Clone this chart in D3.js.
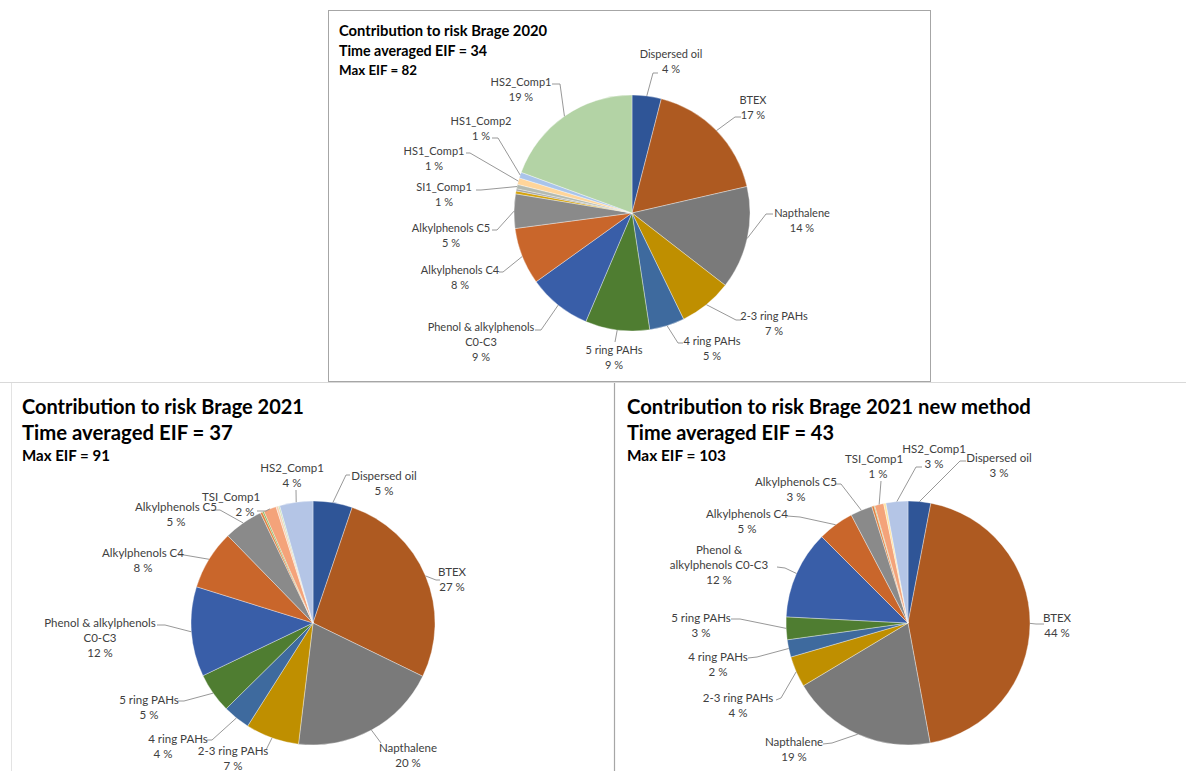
<!DOCTYPE html>
<html>
<head>
<meta charset="utf-8">
<script src="https://cdn.jsdelivr.net/npm/d3@7"></script>
<style>
  body { margin: 0; background: #fff; }
  text { font-family: Lato, "Liberation Sans", sans-serif; fill: #404040; }
  .title { font-weight: bold; fill: #000; }
</style>
</head>
<body>
<svg id="screen" width="1186" height="771"></svg>
<script>
// ---- data (shares in %, clockwise from 12 o'clock) ----
var names2020 = ["Dispersed oil", "BTEX", "Napthalene", "2-3 ring PAHs", "4 ring PAHs", "5 ring PAHs",
                 "Phenol & alkylphenols C0-C3", "Alkylphenols C4", "Alkylphenols C5",
                 "unlabelled A", "unlabelled B", "SI1_Comp1", "HS1_Comp1", "HS1_Comp2", "HS2_Comp1"]
var values2020 = [4.0, 17.4, 14.1, 7.3, 4.8, 8.8, 8.7, 7.8, 4.7, 0.4, 0.3, 0.6, 0.9, 0.8, 19.4]

var names2021 = ["Dispersed oil", "BTEX", "Napthalene", "2-3 ring PAHs", "4 ring PAHs", "5 ring PAHs",
                 "Phenol & alkylphenols C0-C3", "Alkylphenols C4", "Alkylphenols C5",
                 "unlabelled A", "unlabelled B", "TSI_Comp1", "unlabelled C", "unlabelled D", "HS2_Comp1"]
var values2021 = [5.2, 27.0, 19.7, 7.1, 3.6, 5.3, 11.9, 7.9, 5.2, 0.3, 0.2, 1.7, 0.3, 0.2, 4.4]

var namesNew = ["Dispersed oil", "BTEX", "Napthalene", "2-3 ring PAHs", "4 ring PAHs", "5 ring PAHs",
                "Phenol & alkylphenols C0-C3", "Alkylphenols C4", "Alkylphenols C5",
                "unlabelled A", "unlabelled B", "TSI_Comp1", "unlabelled C", "HS2_Comp1"]
var valuesNew = [3.0, 44.1, 19.3, 4.1, 2.3, 3.0, 11.7, 4.8, 2.9, 0.3, 0.1, 1.2, 0.3, 2.9]

var titles2020 = ["Contribution to risk Brage 2020", "Time averaged EIF = 34", "Max EIF = 82"]
var titles2021 = ["Contribution to risk Brage 2021", "Time averaged EIF = 37", "Max EIF = 91"]
var titlesNew = ["Contribution to risk Brage 2021 new method", "Time averaged EIF = 43", "Max EIF = 103"]

// ---- colours (by slice position, as Excel assigns them) ----
var baseColors = ["#2f5597", "#ae5a21", "#7a7a7a", "#bf8f00", "#3e6a9e", "#4f7d31", "#395ea8", "#c9662b", "#8a8a8a"]
var colors2020 = baseColors.concat(["#d4a20a", "#a5a5a5", "#b3bab1", "#ffd59a", "#a9c4ea", "#b3d3a5"])
var colors2021 = baseColors.concat(["#e2803e", "#7fb356", "#f4a37a", "#f9d1b4", "#c8dfb8", "#b4c5e6"])
var colorsNew = baseColors.concat(["#e2803e", "#7fb356", "#f4a37a", "#ffe3a0", "#b4c5e6"])

// ---- label layout, relative to pie centre: text pos, leader (elbow, attach), vdx = shift of the % line ----
var layout2020 = {
  "Dispersed oil": {pos: [39, -155], leader: [[21, -140], [26, -140]]},
  "BTEX": {pos: [121, -109], leader: [[103, -96], [109, -96]]},
  "Napthalene": {pos: [170, 4], leader: [[134, 1], [141, 1]]},
  "2-3 ring PAHs": {pos: [142, 107], leader: [[104, 107], [109, 107]]},
  "4 ring PAHs": {pos: [80, 132], leader: [[46, 130], [51, 130]]},
  "5 ring PAHs": {pos: [-18, 141], leader: [[-17, 129]]},
  "Phenol & alkylphenols C0-C3": {pos: [-151, 118], lines: ["Phenol & alkylphenols", "C0-C3"], leader: [[-91, 117], [-97, 117]]},
  "Alkylphenols C4": {pos: [-172, 61], leader: [[-129, 59], [-133, 59]]},
  "Alkylphenols C5": {pos: [-181, 19], leader: [[-135, 17], [-140, 17]]},
  "SI1_Comp1": {pos: [-188, -22], leader: [[-151, -23], [-156, -23]]},
  "HS1_Comp1": {pos: [-198, -58], leader: [[-162, -60], [-166, -60]]},
  "HS1_Comp2": {pos: [-151, -88], leader: [[-134, -75], [-140, -75]]},
  "HS2_Comp1": {pos: [-111, -127], leader: [[-72, -129], [-80, -129]]}
}
var layout2021 = {
  "Dispersed oil": {pos: [71, -143], leader: [[33, -148], [37, -148]]},
  "BTEX": {pos: [139, -47], leader: [[123, -43], [127, -43]]},
  "Napthalene": {pos: [95, 129], leader: [[68, 120]]},
  "2-3 ring PAHs": {pos: [-80, 132], leader: [[-47, 127]]},
  "4 ring PAHs": {pos: [-135, 120], vdx: -15, leader: [[-101, 117], [-106, 117]]},
  "5 ring PAHs": {pos: [-164, 81], leader: [[-129, 78], [-135, 78]]},
  "Phenol & alkylphenols C0-C3": {pos: [-213, 4], lines: ["Phenol & alkylphenols", "C0-C3"], leader: [[-148, 2], [-156, 2]]},
  "Alkylphenols C4": {pos: [-170, -66], leader: [[-129, -68], [-135, -68]]},
  "Alkylphenols C5": {pos: [-137, -112], leader: [[-93, -113], [-100, -113]]},
  "TSI_Comp1": {pos: [-82, -122], vdx: 14, leader: [[-47, -112], [-56, -112]]},
  "HS2_Comp1": {pos: [-21, -151], leader: [[-17, -133]]}
}
var layoutNew = {
  "Dispersed oil": {pos: [91, -161], leader: [[52, -162], [58, -162]]},
  "HS2_Comp1": {pos: [26, -170], leader: [[8, -156], [14, -156]]},
  "TSI_Comp1": {pos: [-34, -160], vdx: 4, leader: [[-27, -142]]},
  "Alkylphenols C5": {pos: [-112, -137], leader: [[-67, -139], [-73, -139]]},
  "Alkylphenols C4": {pos: [-161, -105], leader: [[-108, -106], [-121, -107]]},
  "Phenol & alkylphenols C0-C3": {pos: [-189, -69], lines: ["Phenol &", "alkylphenols C0-C3"], leader: [[-123, -55], [-131, -56]]},
  "5 ring PAHs": {pos: [-207, -1], leader: [[-168, -4], [-177, -4]]},
  "4 ring PAHs": {pos: [-190, 38], leader: [[-151, 34], [-160, 35]]},
  "2-3 ring PAHs": {pos: [-170, 79], leader: [[-127, 75], [-132, 77]]},
  "Napthalene": {pos: [-114, 123], leader: [[-76, 120], [-85, 121]]},
  "BTEX": {pos: [149, -1], leader: [[128, 1], [136, 1]]}
}

var svg = d3.select("#screen")

// panel frames
svg.append("line").attr("x1", 0).attr("x2", 1186).attr("y1", 382.5).attr("y2", 382.5).attr("stroke", "#d9d9d9")
svg.append("line").attr("x1", 11.5).attr("x2", 11.5).attr("y1", 383).attr("y2", 771).attr("stroke", "#e3e3e3")
svg.append("line").attr("x1", 614.5).attr("x2", 614.5).attr("y1", 383).attr("y2", 771).attr("stroke", "#a6a6a6").attr("stroke-width", 1.2)
svg.append("rect").attr("x", 328.5).attr("y", 10.5).attr("width", 602).attr("height", 371)
   .attr("fill", "none").attr("stroke", "#a6a6a6")

// scale a text so it spans a given width
function fitText(t, width) {
  var w = t.node().getComputedTextLength()
  var fs = parseFloat(t.attr("font-size"))
  t.attr("font-size", (fs * width / w).toFixed(2))
}

function drawTitles(x, ys, widths, lines) {
  lines.forEach(function (s, i) {
    var t = svg.append("text").attr("class", "title").attr("x", x).attr("y", ys[i])
               .attr("font-size", 16).text(s)
    fitText(t, widths[i])
  })
}

function drawPie(cx, cy, r, names, values, colors, layout, fs, lh) {
  var g = svg.append("g").attr("transform", "translate(" + cx + "," + cy + ")")
  var total = d3.sum(values)
  var data = names.map(function (n, i) { return {name: n, value: values[i], color: colors[i]} })
  var arcs = d3.pie().sort(null).value(function (d) { return d.value })(data)
  var arc = d3.arc().innerRadius(0).outerRadius(r)
  var edge = d3.arc().innerRadius(r).outerRadius(r)

  g.selectAll("path.slice").data(arcs).enter()
    .append("path")
    .attr("class", "slice")
    .attr("d", arc)
    .attr("fill", function (d) { return d.data.color })
    .attr("stroke", "#ffffff")
    .attr("stroke-opacity", 0.6)
    .attr("stroke-width", 0.6)

  arcs.forEach(function (a) {
    var lab = layout[a.data.name]
    if (!lab) return
    var pts = [edge.centroid(a)].concat(lab.leader)
    g.append("path")
      .attr("d", d3.line()(pts))
      .attr("fill", "none")
      .attr("stroke", "#8c8c8c")
      .attr("stroke-width", 0.9)
    var lines = (lab.lines || [a.data.name]).concat([Math.round(a.value / total * 100) + " %"])
    var t = g.append("text").attr("text-anchor", "middle").attr("font-size", fs)
    lines.forEach(function (s, i) {
      var dx = (i == lines.length - 1 && lab.vdx) ? lab.vdx : 0
      t.append("tspan").attr("x", lab.pos[0] + dx).attr("y", lab.pos[1] + i * lh).text(s)
    })
  })
}

drawTitles(339, [36, 56, 75], [208, 148, 78], titles2020)
drawTitles(22, [414, 440, 461], [282, 211, 88], titles2021)
drawTitles(627, [414, 440, 461], [404, 207, 99], titlesNew)

drawPie(632, 213, 118, names2020, values2020, colors2020, layout2020, 11, 15)
drawPie(313, 623, 122, names2021, values2021, colors2021, layout2021, 11.5, 15)
drawPie(908, 623, 122, namesNew, valuesNew, colorsNew, layoutNew, 11.5, 15)
</script>
</body>
</html>
